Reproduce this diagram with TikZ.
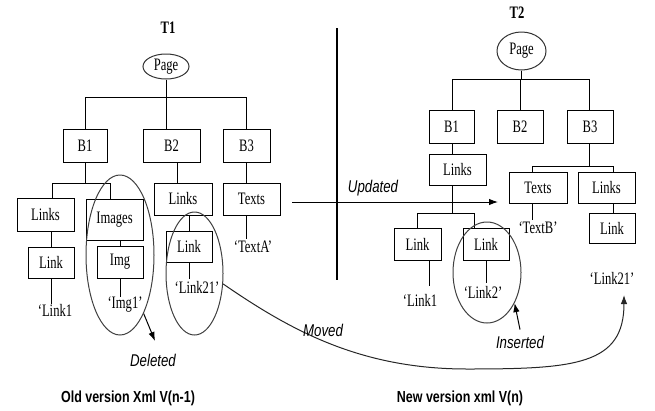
\documentclass[tikz,border=0pt]{standalone}
\usepackage{fontspec}
\setmainfont{Liberation Serif}[FakeStretch=0.72]
\newfontfamily\lsans{Liberation Sans}[FakeStretch=0.78]
\usetikzlibrary{shapes.geometric,arrows.meta}
\begin{document}
\begin{tikzpicture}[x=1pt,y=-1pt,
  bx/.style={draw, line width=1pt, inner sep=0pt, font=\fontsize{17.5}{19}\selectfont},
  lbl/.style={inner sep=0pt, font=\fontsize{17.5}{19}\selectfont},
  ital/.style={inner sep=0pt, font=\lsans\itshape\fontsize{17}{19}\selectfont},
  capt/.style={inner sep=0pt, font=\lsans\bfseries\fontsize{16}{18}\selectfont},
  ttl/.style={inner sep=0pt, font=\bfseries\fontsize{17.5}{19}\selectfont},
  ring/.style={draw=black!75, line width=1pt, ellipse, inner sep=0pt},
  ln/.style={line width=1pt},
  arr/.style={line width=1pt, -{Latex[length=9pt,width=6.5pt]}}]
\useasboundingbox (0,0) rectangle (655,410);

% ---------------- T1 ----------------
\node[ttl] (t1) at (168,28) {T1};
\node[ring, draw=black!80, minimum width=46pt, minimum height=25pt, font=\fontsize{17.5}{19}\selectfont] (page1) at (166,66.5) {Page};
\node[bx, minimum width=44pt, minimum height=33pt] (b1) at (85,145.5) {B1};
\node[bx, minimum width=57pt, minimum height=33pt] (b2) at (171.5,145.5) {B2};
\node[bx, minimum width=47pt, minimum height=33pt] (b3) at (246.5,145.5) {B3};
\node[bx, minimum width=57pt, minimum height=33pt] (links1) at (45.5,214.5) {Links};
\node[bx, minimum width=57pt, minimum height=41pt] (images) at (114.5,219.5) {Images};
\node[bx, minimum width=46pt, minimum height=31pt] (link1) at (51,262.5) {Link};
\node[bx, minimum width=46pt, minimum height=32pt] (img) at (120,262) {Img};
\node[bx, minimum width=58pt, minimum height=32pt] (links2) at (183,199) {Links};
\node[bx, minimum width=57pt, minimum height=32pt] (texts1) at (251.5,199) {Texts};
\node[bx, minimum width=46pt, minimum height=31pt] (link21) at (189,246.5) {Link};
\node[lbl] (vlink1) at (55,310) {‘Link1};
\node[lbl] (vimg1) at (125,305) {‘Img1’};
\node[lbl] (vlink21) at (197,287) {‘Link21’};
\node[lbl] (vtexta) at (253,247) {‘TextA’};

\coordinate (bus1) at (0,97);
\coordinate (h1L) at (52,183);
\coordinate (h1R) at (110,183);
\coordinate (j2) at (177,183);
\draw[ln] (page1.south) -- (page1.south |- bus1);
\draw[ln] (b1.north |- bus1) -- (b3.north |- bus1);
\draw[ln] (b1.north) -- (b1.north |- bus1);
\draw[ln] (page1.south |- b2.north) -- (page1.south |- bus1);
\draw[ln] (b3.north) -- (b3.north |- bus1);
\draw[ln] (b1.south) -- (b1.south |- h1L);
\draw[ln] (h1L |- links1.north) -- (h1L) -- (h1R) -- (h1R |- images.north);
\draw[ln] (link1.north) -- (link1.north |- links1.south);
\draw[ln] (img.north) -- (img.north |- images.south);
\draw[ln] (link1.south) -- (link1.south |- vlink1.north);
\draw[ln] (img.south) -- (img.south |- vimg1.north);
\draw[ln] (j2 |- b2.south) -- (j2);
\draw[ln] (link21.north) -- (link21.north |- links2.south);
\draw[ln] (link21.south) -- ([yshift=2pt]link21.south |- vlink21.north);
\draw[ln] (b3.south) -- (b3.south |- texts1.north);
\draw[ln] (b3.south |- texts1.south) -- ([yshift=2pt]b3.south |- vtexta.north);

\node[ring, minimum width=68pt, minimum height=160pt] (del) at (120,255) {};
\node[ring, minimum width=57pt, minimum height=123pt] (mov) at (194.5,273.5) {};
\node[ital] (deleted) at (153,360) {Deleted};
\coordinate (delend) at (155,341);
\draw[arr] (del.-68) -- (delend);
\node[capt] (oldv) at (128,398) {Old version Xml V(n-1)};

% ---------------- middle ----------------
\coordinate (us) at (292,202);
\coordinate (ue) at (498,202);
\draw[arr] (us) -- (ue);
\node[ital] (upd) at (373,188) {Updated};
\coordinate (vtop) at (337,28);
\coordinate (vbot) at (337,280);
\draw[line width=1.5pt] (vtop) -- (vbot);

% ---------------- T2 ----------------
\node[ttl] (t2) at (517,13) {T2};
\node[ring, draw=black!80, minimum width=49pt, minimum height=38pt, font=\fontsize{17.5}{19}\selectfont] (page2) at (521.5,51) {Page};
\node[bx, minimum width=45pt, minimum height=33pt] (c1) at (451.5,126.5) {B1};
\node[bx, minimum width=46pt, minimum height=33pt] (c2) at (520,126.5) {B2};
\node[bx, minimum width=46pt, minimum height=33pt] (c3) at (590,126.5) {B3};
\node[bx, minimum width=57pt, minimum height=31pt] (clinks) at (457.5,169.5) {Links};
\node[bx, minimum width=47pt, minimum height=32pt] (clinkL) at (417.5,244) {Link};
\node[bx, minimum width=46pt, minimum height=32pt] (clinkR) at (486,244) {Link};
\node[bx, minimum width=58pt, minimum height=31pt] (ctexts) at (538,187.5) {Texts};
\node[bx, minimum width=57pt, minimum height=31pt] (clinks3) at (606.5,187.5) {Links};
\node[bx, minimum width=46pt, minimum height=30pt] (clink3) at (612,228) {Link};
\node[lbl] (wlink1) at (420,300) {‘Link1};
\node[lbl] (wlink2) at (483,292) {‘Link2’};
\node[lbl] (wtextb) at (538,228) {‘TextB’};
\node[lbl] (wlink21) at (612,278) {‘Link21’};

\coordinate (bus2) at (0,79);
\coordinate (k1) at (452,79);
\coordinate (k3) at (589,79);
\coordinate (h2L) at (417,213);
\coordinate (h2R) at (474,213);
\coordinate (h3L) at (532,166);
\coordinate (h3R) at (613,166);
\draw[ln] (page2.south) -- (page2.south |- bus2);
\draw[ln] (k1) -- (k3);
\draw[ln] (k1) -- (k1 |- c1.north);
\draw[ln] (c2.north) -- (c2.north |- bus2);
\draw[ln] (k3) -- (k3 |- c3.north);
\draw[ln] (k1 |- c1.south) -- (k1 |- clinks.north);
\draw[ln] (k1 |- clinks.south) -- (k1 |- h2L);
\draw[ln] (h2L |- clinkL.north) -- (h2L) -- (h2R) -- (h2R |- clinkR.north);
\draw[ln] ([xshift=11.5pt]clinkL.south) -- ([xshift=11.5pt,yshift=8pt]clinkL.south |- wlink1.north);
\draw[ln] (clinkR.south) -- ([yshift=3pt]clinkR.south |- wlink2.north);
\draw[ln] (k3 |- c3.south) -- (k3 |- h3L);
\draw[ln] (h3L |- ctexts.north) -- (h3L) -- (h3R) -- (h3R |- clinks3.north);
\draw[ln] (h3L |- ctexts.south) -- ([yshift=2pt]h3L |- wtextb.north);
\draw[ln] (h3R |- clinks3.south) -- (h3R |- clink3.north);

\node[ring, minimum width=68pt, minimum height=101pt] (ins) at (487,272.5) {};
\node[ital] (inserted) at (520,342) {Inserted};
\draw[arr] ([yshift=6pt]inserted.north) -- (ins.-48);
\node[capt] (newv) at (460,398) {New version xml V(n)};

% moved curve
\coordinate (mvend) at (624,295);
\draw[arr, draw=black!85] (mov.-20) .. controls (290,330) and (360,369) .. (467,369)
   .. controls (575,369) and (624,365) .. (mvend);
\node[ital] (moved) at (323,330) {Moved};
\end{tikzpicture}
\end{document}
